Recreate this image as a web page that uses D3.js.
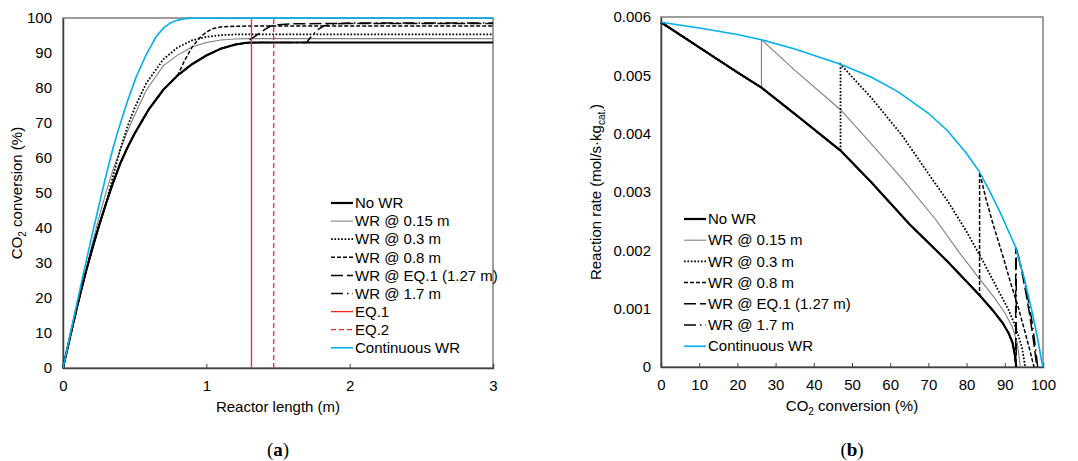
<!DOCTYPE html>
<html>
<head>
<meta charset="utf-8">
<script src="https://cdn.jsdelivr.net/npm/d3@7"></script>
<style>
  body { margin: 0; background: #fff; }
  text { font-family: 'Liberation Sans', Arial, sans-serif; fill: #000; }
</style>
</head>
<body>
<svg id="fig" width="1078" height="461"></svg>
<script>
// Panel (a): CO2 conversion (%) vs reactor length (m)
const lenNoWR = [[0,0],[0.05,9],[0.1,17.8],[0.15,26],[0.2,33.5],[0.25,40.5],[0.3,47],[0.35,53],[0.4,58.5],
  [0.45,63],[0.5,67],[0.55,70.5],[0.6,74],[0.7,79.5],[0.8,83.6],[0.9,86.8],[1.0,89.3],[1.1,91.2],[1.2,92.4],
  [1.27,92.85],[1.3,92.95],[1.4,93.0],[1.7,93.0],[3,93.0]]
// each WR series follows No WR up to the removal point, then these points
const len015 = [[0.15,26],[0.2,34.8],[0.25,42.8],[0.3,50.2],[0.35,56.8],[0.4,62.4],[0.45,67.6],[0.5,72.3],
  [0.58,79.3],[0.7,86.4],[0.8,89.4],[0.9,91.7],[1.0,93.0],[1.1,93.7],[1.2,94.0],[1.3,94.1],[3,94.1]]
const len03 = [[0.3,47],[0.35,55],[0.4,62.5],[0.45,69],[0.5,74.3],[0.58,81.3],[0.7,88.2],[0.8,91.6],
  [0.9,93.6],[1.0,94.6],[1.1,95.1],[1.2,95.3],[3,95.3]]
const len08 = [[0.8,83.6],[0.85,88],[0.9,91.6],[0.95,94.2],[1.0,96.0],[1.05,97.0],[1.1,97.45],[1.2,97.65],
  [1.3,97.7],[3,97.7]]
const lenEQ1 = [[1.27,92.85],[1.344,94.9],[1.411,96.8],[1.45,97.7],[1.5,98.1],[1.6,98.35],[1.8,98.4],[3,98.4]]
const len17 = [[1.7,93.0],[1.726,94.4],[1.775,96.6],[1.82,97.7],[1.9,98.35],[2.0,98.55],[2.2,98.6],[3,98.6]]
const lenCont = [[0,0],[0.05,9.5],[0.1,19],[0.15,28.3],[0.2,37.5],[0.25,46.3],[0.3,55],[0.35,63],[0.389,68.4],
  [0.45,76.3],[0.51,83.1],[0.58,89.5],[0.647,94.5],[0.7,97.1],[0.75,98.6],[0.8,99.4],[0.85,99.8],[0.9,99.95],[3,100]]
const eqLines = [1.315, 1.47]

// Panel (b): reaction rate (mol/s/kg cat.) vs CO2 conversion (%)
const rateNoWR = [[0,0.00591],[10,0.00548],[20,0.00505],[26.3,0.00479],[35,0.00434],[47,0.00371],[55,0.00317],
  [65,0.00245],[75,0.00181],[83.4,0.00123],[87,0.00096],[89.5,0.00075],[91,0.00058],[92,0.00042],
  [92.6,0.00022],[92.9,0.00006],[93,0]]
const rate015 = [[26.3,0.00479],[26.3,0.00561],[35,0.00509],[47,0.00441],[55,0.00383],[63.5,0.0032],[72,0.00252],
  [78,0.00197],[83.3,0.00152],[87,0.00121],[90,0.00093],[92,0.00068],[93.3,0.0004],[93.8,0.00015],[94.05,0]]
const rate03 = [[47,0.00371],[47,0.00519],[55,0.00462],[63,0.00398],[71,0.00322],[75,0.00285],[80,0.00232],
  [84,0.00185],[88,0.00135],[91,0.00098],[93,0.00066],[94.5,0.00033],[95.1,0.0001],[95.3,0]]
const rate08 = [[83.4,0.00123],[83.4,0.00334],[85,0.0029],[86.7,0.0025],[89.5,0.0019],[91.5,0.00145],
  [93.5,0.00103],[95.5,0.00055],[96.7,0.00025],[97.4,0.00006],[97.7,0]]
const rateEQ1 = [[92.85,0.00008],[92.85,0.00205],[93.5,0.0019],[94.5,0.00162],[95.5,0.00128],[96.5,0.0009],
  [97.4,0.0005],[98.0,0.0002],[98.4,0]]
const rate17 = [[93.0,0],[93.0,0.00203],[94,0.0018],[95,0.00152],[96,0.0012],[97,0.00083],[97.8,0.00045],
  [98.3,0.00018],[98.6,0]]
const rateCont = [[0,0.00591],[10,0.00581],[20,0.0057],[26.3,0.00561],[35,0.00545],[47,0.00519],[55,0.00497],
  [62,0.00472],[70,0.00435],[75,0.00405],[80,0.00366],[83.4,0.00334],[86,0.00302],[89,0.00262],[92.85,0.00205],
  [95.2,0.00149],[97.3,0.0009],[98.7,0.00045],[99.6,0.00012],[100,0]]

// Ticks and labels
const xTicksA = [0, 1, 2, 3]
const yTicksA = [0, 10, 20, 30, 40, 50, 60, 70, 80, 90, 100]
const xTicksB = [0, 10, 20, 30, 40, 50, 60, 70, 80, 90, 100]
const yTicksB = [0, 0.001, 0.002, 0.003, 0.004, 0.005, 0.006]
const legendA = ['No WR', 'WR @ 0.15 m', 'WR @ 0.3 m', 'WR @ 0.8 m', 'WR @ EQ.1 (1.27 m)', 'WR @ 1.7 m', 'EQ.1', 'EQ.2', 'Continuous WR']
const legendB = ['No WR', 'WR @ 0.15 m', 'WR @ 0.3 m', 'WR @ 0.8 m', 'WR @ EQ.1 (1.27 m)', 'WR @ 1.7 m', 'Continuous WR']

// Line styles, keyed by legend label
const styles = {
  'No WR': { stroke: '#000', width: 2.2, dash: null },
  'WR @ 0.15 m': { stroke: '#7f7f7f', width: 1.1, dash: null },
  'WR @ 0.3 m': { stroke: '#000', width: 1.8, dash: '1.7,1.7' },
  'WR @ 0.8 m': { stroke: '#000', width: 1.5, dash: '4,2' },
  'WR @ EQ.1 (1.27 m)': { stroke: '#000', width: 1.5, dash: '12,4' },
  'WR @ 1.7 m': { stroke: '#000', width: 1.5, dash: '12,4,1.5,4' },
  'EQ.1': { stroke: '#ff2020', width: 1.3, dash: null },
  'EQ.2': { stroke: '#ff2020', width: 1.3, dash: '5,3' },
  'Continuous WR': { stroke: '#00b0f0', width: 1.6, dash: null }
}

const svg = d3.select('#fig')
svg.append('rect').attr('width', 1078).attr('height', 461).attr('fill', '#fff')

// prepend the No WR path before the removal point
const withBase = (base, after) => base.filter(d => d[0] < after[0][0]).concat(after)

const applyStyle = (sel, key) => {
  const s = styles[key]
  sel.attr('fill', 'none').attr('stroke', s.stroke).attr('stroke-width', s.width)
    .attr('stroke-dasharray', s.dash)
}

const drawPanel = opt => {
  const { x, y } = opt
  const g = svg.append('g')
  const [x0, x1] = x.range()
  const [y0, y1] = y.range()

  // frame
  g.append('rect').attr('x', x0).attr('y', y1).attr('width', x1 - x0).attr('height', y0 - y1)
    .attr('fill', 'none').attr('stroke', '#7f7f7f').attr('stroke-width', 1.5)

  // x axis with inside ticks
  const xAxis = g.append('g').attr('transform', `translate(0,${y0})`)
    .call(d3.axisBottom(x).tickValues(opt.xTicks).tickSize(-4).tickPadding(12).tickFormat(d3.format('')))
  xAxis.select('.domain').attr('stroke', '#404040').attr('stroke-width', 1.5)
  xAxis.selectAll('.tick line').attr('stroke', '#404040').attr('stroke-width', 1)
  xAxis.selectAll('.tick text').attr('font-size', 15).attr('font-family', null)
  xAxis.selectAll('.tick').filter(d => d === opt.xTicks[0] || d === opt.xTicks[opt.xTicks.length - 1])
    .select('line').remove()

  // y axis, labels only
  const yAxis = g.append('g').attr('transform', `translate(${x0},0)`)
    .call(d3.axisLeft(y).tickValues(opt.yTicks).tickSize(0).tickPadding(opt.yPad).tickFormat(opt.yFormat))
  yAxis.select('.domain').attr('stroke', '#404040').attr('stroke-width', 1.5)
  yAxis.selectAll('.tick text').attr('font-size', 15).attr('font-family', null)

  // axis titles
  const xt = g.append('text').attr('x', (x0 + x1) / 2).attr('y', y0 + 44)
    .attr('text-anchor', 'middle').attr('font-size', 15)
  opt.xTitle(xt)
  const yt = g.append('text').attr('transform', `translate(${opt.yTitleX},${(y0 + y1) / 2}) rotate(-90)`)
    .attr('text-anchor', 'middle').attr('font-size', 15)
  opt.yTitle(yt)

  const line = d3.line().x(d => x(d[0])).y(d => y(d[1]))
  opt.series.forEach(s => {
    g.append('path').datum(s.data).attr('d', line).call(applyStyle, s.key)
  })

  // legend
  const lg = g.append('g')
  opt.legend.forEach((key, i) => {
    const ly = opt.legendY + i * opt.legendStep
    lg.append('line').attr('x1', opt.legendX).attr('x2', opt.legendX + 22)
      .attr('y1', ly).attr('y2', ly).call(applyStyle, key)
    lg.append('text').attr('x', opt.legendX + 24).attr('y', ly).attr('dy', '0.35em')
      .attr('font-size', 15).text(key)
  })
  return g
}

const sub = (sel, before, subText, after) => {
  sel.append('tspan').text(before)
  sel.append('tspan').attr('font-size', 10).attr('dy', 4).text(subText)
  sel.append('tspan').attr('dy', -4).text(after)
}

// Panel (a)
const xA = d3.scaleLinear().domain([0, 3]).range([63, 493])
const yA = d3.scaleLinear().domain([0, 100]).range([368, 18])
drawPanel({
  x: xA, y: yA, xTicks: xTicksA, yTicks: yTicksA, yFormat: d3.format(''), yPad: 11,
  xTitle: t => t.text('Reactor length (m)'),
  yTitle: t => sub(t, 'CO', '2', ' conversion (%)'),
  yTitleX: 22,
  series: [
    { key: 'WR @ 0.15 m', data: withBase(lenNoWR, len015) },
    { key: 'WR @ 0.3 m', data: withBase(lenNoWR, len03) },
    { key: 'WR @ 0.8 m', data: withBase(lenNoWR, len08) },
    { key: 'WR @ EQ.1 (1.27 m)', data: withBase(lenNoWR, lenEQ1) },
    { key: 'WR @ 1.7 m', data: withBase(lenNoWR, len17) },
    { key: 'No WR', data: lenNoWR },
    { key: 'EQ.1', data: [[eqLines[0], 0], [eqLines[0], 100]] },
    { key: 'EQ.2', data: [[eqLines[1], 0], [eqLines[1], 100]] },
    { key: 'Continuous WR', data: lenCont }
  ],
  legend: legendA, legendX: 331, legendY: 203, legendStep: 18.1
})

// Panel (b)
const xB = d3.scaleLinear().domain([0, 100]).range([661, 1043])
const yB = d3.scaleLinear().domain([0, 0.006]).range([367, 17])
drawPanel({
  x: xB, y: yB, xTicks: xTicksB, yTicks: yTicksB, yFormat: d => d === 0 ? '0' : d3.format('.3f')(d), yPad: 10,
  xTitle: t => sub(t, 'CO', '2', ' conversion (%)'),
  yTitle: t => sub(t, 'Reaction rate (mol/s·kg', 'cat.', ')'),
  yTitleX: 601,
  series: [
    { key: 'WR @ 0.15 m', data: withBase(rateNoWR, rate015) },
    { key: 'WR @ 0.3 m', data: withBase(rateNoWR, rate03) },
    { key: 'WR @ 0.8 m', data: withBase(rateNoWR, rate08) },
    { key: 'WR @ EQ.1 (1.27 m)', data: withBase(rateNoWR, rateEQ1) },
    { key: 'WR @ 1.7 m', data: withBase(rateNoWR, rate17) },
    { key: 'No WR', data: rateNoWR },
    { key: 'Continuous WR', data: rateCont }
  ],
  legend: legendB, legendX: 684, legendY: 219, legendStep: 21.2
})

// panel captions
const caps = [['a', 278], ['b', 852]]
caps.forEach(([c, cx]) => {
  const t = svg.append('text').attr('x', cx).attr('y', 456).attr('text-anchor', 'middle')
    .attr('font-size', 19).style('font-family', "'Liberation Serif', serif")
  t.append('tspan').text('(')
  t.append('tspan').attr('font-weight', 'bold').text(c)
  t.append('tspan').text(')')
})
</script>
</body>
</html>
